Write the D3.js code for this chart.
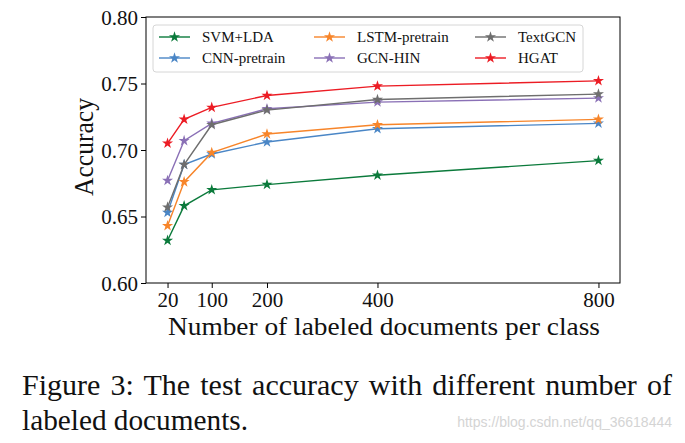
<!DOCTYPE html>
<html>
<head>
<meta charset="utf-8">
<script src="https://cdn.jsdelivr.net/npm/d3@7"></script>
<style>
  body { margin: 0; background: #fff; }
  text { font-family: "Liberation Serif", "Times New Roman", serif; fill: #111; }
</style>
</head>
<body>
<div id="chart"></div>
<script>
// labeled documents per class
const docs = [20, 50, 100, 200, 400, 800];
const xTicks = [20, 100, 200, 400, 800];
const yTicks = [0.60, 0.65, 0.70, 0.75, 0.80];

const svmLda      = [0.632, 0.658, 0.670, 0.674, 0.681, 0.692];
const cnnPretrain = [0.653, 0.689, 0.697, 0.706, 0.716, 0.720];
const lstmPretrain= [0.643, 0.676, 0.698, 0.712, 0.719, 0.723];
const gcnHin      = [0.677, 0.707, 0.720, 0.731, 0.736, 0.739];
const textGcn     = [0.657, 0.689, 0.719, 0.730, 0.738, 0.742];
const hgat        = [0.705, 0.723, 0.732, 0.741, 0.748, 0.752];

const series = [
  {name: "SVM+LDA", values: svmLda, color: "#0b7a3b"},
  {name: "CNN-pretrain", values: cnnPretrain, color: "#4a86c6"},
  {name: "LSTM-pretrain", values: lstmPretrain, color: "#f7852a"},
  {name: "GCN-HIN", values: gcnHin, color: "#8a70b6"},
  {name: "TextGCN", values: textGcn, color: "#6e6e6e"},
  {name: "HGAT", values: hgat, color: "#ec1c24"}
];
// legend is laid out column by column
const legendOrder = ["SVM+LDA", "CNN-pretrain", "LSTM-pretrain", "GCN-HIN", "TextGCN", "HGAT"];

const width = 685, height = 443;
const mLeft = 146, mRight = 620, mTop = 17, mBottom = 283;

const svg = d3.select("#chart").append("svg")
    .attr("width", width)
    .attr("height", height)
    .style("background", "#fff");

let x = d3.scaleLinear().domain([-19, 839]).range([mLeft, mRight]);
let y = d3.scaleLinear().domain([0.60, 0.80]).range([mBottom, mTop]);

let xAxis = svg.append("g")
    .attr("transform", "translate(0," + mBottom + ")")
    .call(d3.axisBottom(x).tickValues(xTicks).tickSize(5).tickSizeOuter(0).tickFormat(d3.format("d")));
xAxis.selectAll("text").attr("font-size", 21).attr("dy", "0.75em");

let yAxis = svg.append("g")
    .attr("transform", "translate(" + mLeft + ",0)")
    .call(d3.axisLeft(y).tickValues(yTicks).tickSize(5).tickSizeOuter(0).tickFormat(d3.format(".2f")));
yAxis.selectAll("text").attr("font-size", 21).attr("dy", "0.35em");

svg.selectAll(".domain").remove();
svg.selectAll(".tick line").attr("stroke", "#000").attr("stroke-width", 1);
svg.selectAll(".tick text").attr("fill", "#111").style("font-family", "Liberation Serif");

// frame
svg.append("rect")
    .attr("x", mLeft).attr("y", mTop)
    .attr("width", mRight - mLeft).attr("height", mBottom - mTop)
    .attr("fill", "none").attr("stroke", "#000").attr("stroke-width", 1);

let line = d3.line()
    .x((d, i) => x(docs[i]))
    .y(d => y(d));

let star = d3.symbol().type(d3.symbolStar).size(38);

series.forEach(s => {
  svg.append("path")
      .attr("d", line(s.values))
      .attr("fill", "none")
      .attr("stroke", s.color)
      .attr("stroke-width", 1.4);
  svg.append("g").selectAll("path")
      .data(s.values)
      .join("path")
      .attr("d", star)
      .attr("transform", (d, i) => "translate(" + x(docs[i]) + "," + y(d) + ")")
      .attr("fill", s.color);
});

// legend
let lg = svg.append("g");
lg.append("rect")
    .attr("x", 153).attr("y", 25)
    .attr("width", 430).attr("height", 47)
    .attr("rx", 3)
    .attr("fill", "#fff").attr("fill-opacity", 0.8)
    .attr("stroke", "#d6d6d6").attr("stroke-width", 1);

const colX = [159, 314, 475];
const rowY = [37, 58];
legendOrder.forEach((name, k) => {
  let s = series.find(d => d.name == name);
  let cx = colX[Math.floor(k / 2)], cy = rowY[k % 2];
  lg.append("line")
      .attr("x1", cx).attr("x2", cx + 31)
      .attr("y1", cy).attr("y2", cy)
      .attr("stroke", s.color).attr("stroke-width", 1.4);
  lg.append("path")
      .attr("d", star)
      .attr("transform", "translate(" + (cx + 15.5) + "," + cy + ")")
      .attr("fill", s.color);
  lg.append("text")
      .attr("x", cx + 43).attr("y", cy)
      .attr("dy", "0.35em")
      .attr("font-size", 15)
      .text(name);
});

// axis titles
svg.append("text")
    .attr("x", 168).attr("y", 335)
    .attr("font-size", 25)
    .attr("textLength", 432)
    .attr("lengthAdjust", "spacingAndGlyphs")
    .text("Number of labeled documents per class");

svg.append("text")
    .attr("transform", "translate(93,147) rotate(-90)")
    .attr("text-anchor", "middle")
    .attr("font-size", 28)
    .attr("textLength", 98)
    .attr("lengthAdjust", "spacingAndGlyphs")
    .text("Accuracy");

// caption, first line justified like the paper
let cap1 = svg.append("text")
    .attr("x", 22).attr("y", 395)
    .attr("font-size", 30)
    .text("Figure 3: The test accuracy with different number of");
let w1 = cap1.node().getComputedTextLength();
let nSp = cap1.text().split(" ").length - 1;
if (w1 < 650) cap1.style("word-spacing", ((650 - w1) / nSp) + "px");
else cap1.attr("textLength", 650).attr("lengthAdjust", "spacingAndGlyphs");

svg.append("text")
    .attr("x", 22).attr("y", 430)
    .attr("font-size", 30)
    .attr("textLength", 226)
    .attr("lengthAdjust", "spacingAndGlyphs")
    .text("labeled documents.");

svg.append("text")
    .attr("x", 672).attr("y", 427)
    .attr("text-anchor", "end")
    .attr("font-size", 14)
    .style("font-family", "Liberation Sans, Arial, sans-serif")
    .style("fill", "#d4d4d4")
    .text("https://blog.csdn.net/qq_36618444");
</script>
</body>
</html>
